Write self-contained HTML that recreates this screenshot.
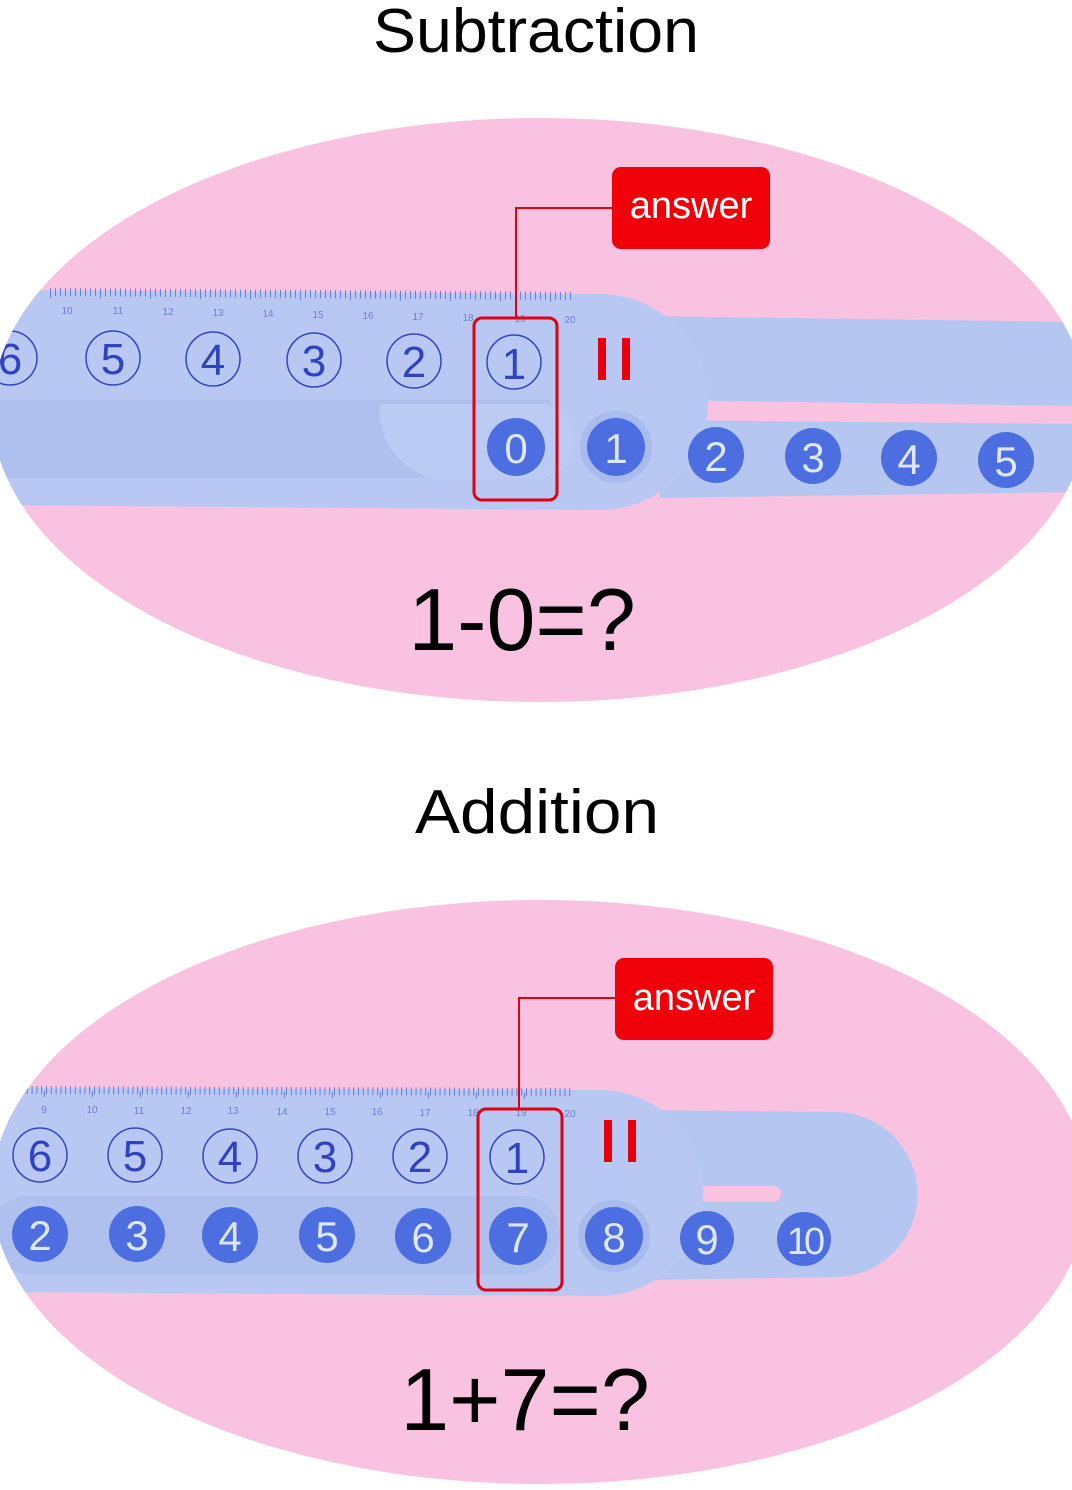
<!DOCTYPE html>
<html><head><meta charset="utf-8"><style>
html,body{margin:0;padding:0;background:#fff;width:1072px;height:1490px;overflow:hidden}
svg{display:block}
.t{font-family:"Liberation Sans","DejaVu Sans",sans-serif}
</style></head><body>
<svg width="1072" height="1490" viewBox="0 0 1072 1490" xmlns="http://www.w3.org/2000/svg">
<defs>
<clipPath id="c1"><ellipse cx="540" cy="410" rx="548" ry="292"/></clipPath>
<clipPath id="c2"><ellipse cx="540" cy="1192" rx="548" ry="292"/></clipPath>
</defs>

<text class="t" x="536" y="52" font-size="62" text-anchor="middle" fill="#000" textLength="326" lengthAdjust="spacingAndGlyphs">Subtraction</text>
<text class="t" x="537" y="833" font-size="62" text-anchor="middle" fill="#000" textLength="244" lengthAdjust="spacingAndGlyphs">Addition</text>

<!-- TOP PANEL -->
<ellipse cx="540" cy="410" rx="548" ry="292" fill="#f9c2e0"/>
<g clip-path="url(#c1)">
  <path d="M640 316 L1080 322 L1080 406 L640 400 Z" fill="#b5c6f0"/>
  <path d="M660 420 L1080 424 L1080 492 L660 498 Z" fill="#b5c6f0"/>
  <path d="M-10 290 L600 294 A108 108 0 0 1 600 510 L-10 505 Z" fill="#b8c8f2"/>
  <rect x="-10" y="400" width="560" height="78" fill="#afc0ee"/>
  <path d="M380 404 L545 404 A38 38 0 0 1 545 478 L430 478 A70 70 0 0 1 380 404 Z" fill="#bccbf3"/>
  <line x1="50" y1="292" x2="572" y2="296" stroke="#6a7fd6" stroke-width="8" stroke-dasharray="1 4"/>
  <line x1="50" y1="295" x2="572" y2="299" stroke="#6a7fd6" stroke-width="6" stroke-dasharray="1 49"/>
  <g class="t" font-size="10" fill="#6a7fd6" text-anchor="middle">
    <text x="67" y="314">10</text><text x="118" y="314">11</text><text x="168" y="315">12</text><text x="218" y="316">13</text><text x="268" y="317">14</text><text x="318" y="318">15</text><text x="368" y="319">16</text><text x="418" y="320">17</text><text x="468" y="321">18</text><text x="520" y="322">19</text><text x="570" y="323">20</text>
  </g>
  <g fill="none" stroke="#3345c0" stroke-width="1.5">
    <circle cx="10" cy="358" r="27"/><circle cx="113" cy="358" r="27"/><circle cx="213" cy="359" r="27"/><circle cx="314" cy="360" r="27"/><circle cx="414" cy="361" r="27"/><circle cx="514" cy="362" r="27"/>
  </g>
  <g class="t" font-size="44" fill="#2f42c2" text-anchor="middle">
    <text x="10" y="374">6</text><text x="113" y="374">5</text><text x="213" y="375">4</text><text x="314" y="376">3</text><text x="414" y="377">2</text><text x="514" y="379">1</text>
  </g>
  <circle cx="616" cy="447" r="36" fill="#a9bbec"/>
  <g fill="#4c6ee0">
    <circle cx="516" cy="447" r="29"/><circle cx="616" cy="447" r="29"/><circle cx="716" cy="455" r="28"/><circle cx="813" cy="456" r="28"/><circle cx="909" cy="458" r="28"/><circle cx="1006" cy="460" r="28"/>
  </g>
  <g class="t" font-size="42" fill="#dfe6ff" text-anchor="middle">
    <text x="516" y="463">0</text><text x="616" y="463">1</text><text x="716" y="471">2</text><text x="813" y="472">3</text><text x="909" y="474">4</text><text x="1006" y="476">5</text>
  </g>
  <rect x="598" y="338" width="8" height="42" fill="#e6000c"/><rect x="622" y="338" width="8" height="42" fill="#e6000c"/>
</g>
<rect x="474" y="318" width="83" height="182" rx="8" fill="none" stroke="#e00010" stroke-width="3"/>
<polyline points="516,318 516,208 612,208" fill="none" stroke="#e00010" stroke-width="2"/>
<rect x="612" y="167" width="158" height="82" rx="9" fill="#f00008"/>
<text class="t" x="691" y="218" font-size="38" fill="#fff" text-anchor="middle">answer</text>
<text class="t" x="522" y="650" font-size="88" fill="#000" text-anchor="middle">1-0=?</text>

<!-- BOTTOM PANEL -->
<ellipse cx="540" cy="1192" rx="548" ry="292" fill="#f9c2e0"/>
<g clip-path="url(#c2)">
  <path d="M640 1110 L835 1112 A82 82 0 0 1 835 1277 L640 1280 Z" fill="#b5c6f0"/>
  <rect x="693" y="1186" width="88" height="16" rx="8" fill="#f9c2e0"/>
  <path d="M-10 1088 L600 1090 A103 103 0 0 1 600 1296 L-10 1292 Z" fill="#b8c8f2"/>
  <rect x="-10" y="1196" width="570" height="78" rx="38" fill="#afc0ee"/>
  <line x1="22" y1="1090" x2="572" y2="1092" stroke="#6a7fd6" stroke-width="8" stroke-dasharray="1 3.8"/>
  <line x1="44" y1="1094" x2="572" y2="1096" stroke="#6a7fd6" stroke-width="6" stroke-dasharray="1 47"/>
  <g class="t" font-size="10" fill="#6a7fd6" text-anchor="middle">
    <text x="44" y="1113">9</text><text x="92" y="1113">10</text><text x="139" y="1114">11</text><text x="186" y="1114">12</text><text x="233" y="1114">13</text><text x="282" y="1115">14</text><text x="330" y="1115">15</text><text x="377" y="1115">16</text><text x="425" y="1116">17</text><text x="473" y="1116">18</text><text x="521" y="1116">19</text><text x="570" y="1117">20</text>
  </g>
  <g fill="none" stroke="#3345c0" stroke-width="1.5">
    <circle cx="40" cy="1155" r="27"/><circle cx="135" cy="1155" r="27"/><circle cx="230" cy="1156" r="27"/><circle cx="325" cy="1156" r="27"/><circle cx="420" cy="1156" r="27"/><circle cx="517" cy="1157" r="27"/>
  </g>
  <g class="t" font-size="44" fill="#2f42c2" text-anchor="middle">
    <text x="40" y="1171">6</text><text x="135" y="1171">5</text><text x="230" y="1172">4</text><text x="325" y="1172">3</text><text x="420" y="1172">2</text><text x="517" y="1173">1</text>
  </g>
  <circle cx="614" cy="1236" r="36" fill="#a9bbec"/>
  <g fill="#4c6ee0">
    <circle cx="40" cy="1234" r="28"/><circle cx="137" cy="1234" r="28"/><circle cx="230" cy="1235" r="28"/><circle cx="327" cy="1235" r="28"/><circle cx="423" cy="1236" r="28"/><circle cx="518" cy="1236" r="29"/><circle cx="614" cy="1236" r="29"/><circle cx="707" cy="1238" r="27"/><circle cx="804" cy="1239" r="27"/>
  </g>
  <g class="t" font-size="42" fill="#dfe6ff" text-anchor="middle">
    <text x="40" y="1250">2</text><text x="137" y="1250">3</text><text x="230" y="1251">4</text><text x="327" y="1251">5</text><text x="423" y="1252">6</text><text x="518" y="1252">7</text><text x="614" y="1252">8</text><text x="707" y="1254">9</text><text x="804" y="1254" font-size="38" letter-spacing="-4">10</text>
  </g>
  <rect x="604" y="1120" width="8" height="42" fill="#e6000c"/><rect x="628" y="1120" width="8" height="42" fill="#e6000c"/>
</g>
<rect x="478" y="1109" width="84" height="181" rx="8" fill="none" stroke="#e00010" stroke-width="3"/>
<polyline points="519,1109 519,998 615,998" fill="none" stroke="#e00010" stroke-width="2"/>
<rect x="615" y="958" width="158" height="82" rx="9" fill="#f00008"/>
<text class="t" x="694" y="1010" font-size="38" fill="#fff" text-anchor="middle">answer</text>
<text class="t" x="525" y="1430" font-size="88" fill="#000" text-anchor="middle">1+7=?</text>
</svg>
</body></html>
